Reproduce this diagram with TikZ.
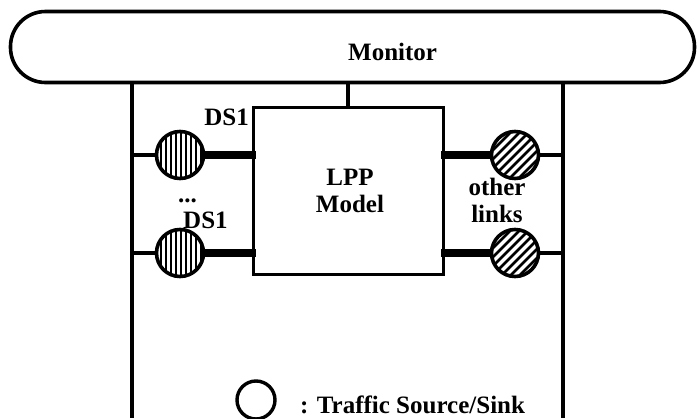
\documentclass[tikz,border=0pt]{standalone}
\usepackage{fontspec}
\setmainfont{Liberation Serif}
\usetikzlibrary{calc}
\begin{document}
\begin{tikzpicture}[x=1pt,y=-1pt,
  txt/.style={inner sep=0pt,font=\fontsize{25}{28}\selectfont\bfseries},
  wire/.style={line width=3.2pt},
  link/.style={line width=7.5pt, shorten >=-4pt},
  src/.style={circle, draw, line width=3.6pt, minimum size=47pt, inner sep=0pt},
  vhatch/.style={src, path picture={
      \foreach \i in {-24,-19,...,24}
        \draw[line width=2.2pt] ([xshift=\i pt]path picture bounding box.center) ++(0pt,-30pt) -- ++(0pt,60pt);}},
  dhatch/.style={src, path picture={
      \foreach \i in {-45,-36,...,45}
        \draw[line width=2.8pt] ([xshift=\i pt]path picture bounding box.center) ++(-30pt,-30pt) -- ++(60pt,60pt);}}
]
\useasboundingbox (0,0) rectangle (699,418);

% monitor bar
\node[draw, line width=3.6pt, rounded corners=35pt, minimum width=684pt,
      minimum height=71pt, inner sep=0pt] (mon) at (352.5,47) {};
\node[txt, anchor=base west] (montxt) at (348,60) {Monitor};

% model box
\node[draw, line width=3pt, minimum width=190pt, minimum height=167pt,
      inner sep=0pt] (lpp) at (348,191) {};
\node[txt, anchor=base] (lpp1) at (350,185) {LPP};
\node[txt, anchor=base] (lpp2) at (350,212) {Model};

% bus lines
\coordinate (lb) at (132,418);
\coordinate (rb) at (563,418);
\draw[wire] (mon.south -| lb) -- (lb);
\draw[wire] (mon.south -| rb) -- (rb);
\draw[wire] (mon.south -| lpp.north) -- (lpp.north);

% DS1 sources and the other links
\node[vhatch] (s1) at (180,155) {};
\node[vhatch] (s2) at (180,253) {};
\node[dhatch] (s3) at (515,155) {};
\node[dhatch] (s4) at (515,253) {};

\foreach \s in {s1,s2} {
  \draw[wire] (lb |- \s) -- (\s.west);
  \draw[link] (\s.east) -- (lpp.west |- \s);
}
\foreach \s in {s3,s4} {
  \draw[wire] (\s.east) -- (rb |- \s);
  \draw[link] (\s.west) -- (lpp.east |- \s);
}

\node[txt, anchor=base east] (ds1a) at (249,125) {DS1};
\node[txt, anchor=base west] (dots) at (178,202) {...};
\node[txt, anchor=base west] (ds1b) at (183,228) {DS1};
\node[txt, anchor=base] (oth1) at (497,195) {other};
\node[txt, anchor=base] (oth2) at (497,222) {links};

% legend
\node[circle, draw, line width=3.4pt, minimum size=38pt, inner sep=0pt] (key) at (256,400) {};
\node[txt, anchor=base west] (keytxt) at (300,413) {: Traffic Source/Sink};
\end{tikzpicture}
\end{document}
